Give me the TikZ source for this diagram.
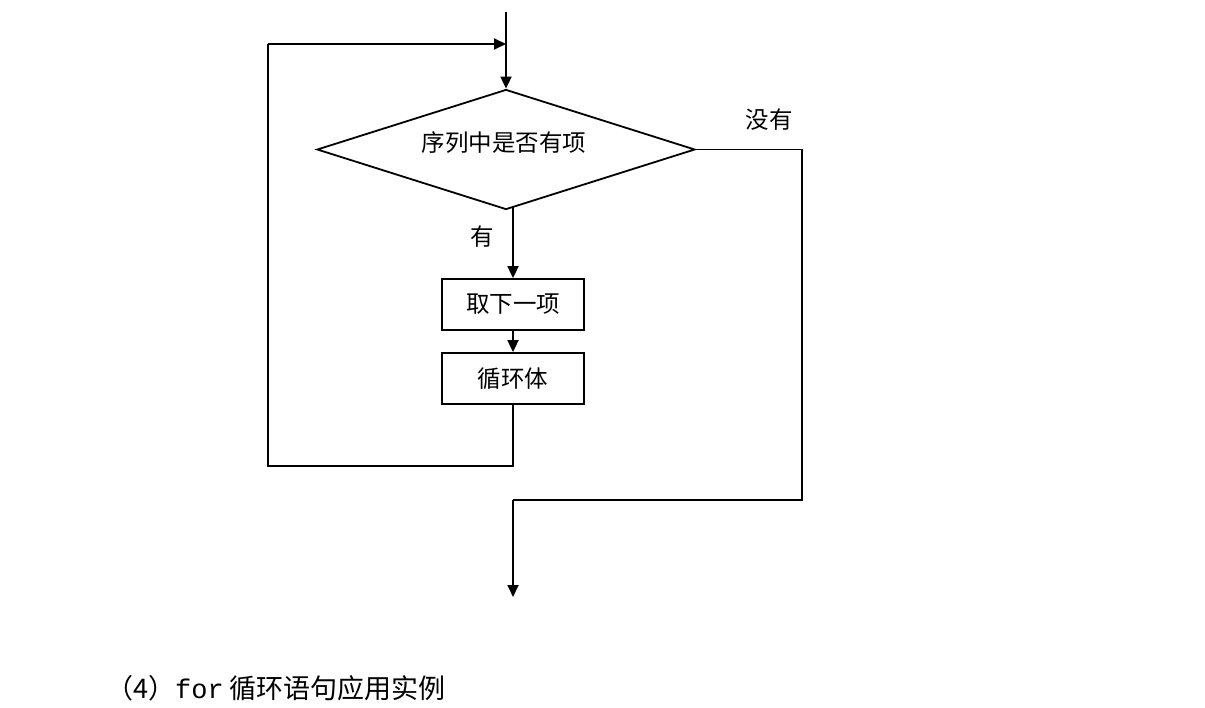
\documentclass[tikz,border=0pt]{standalone}
\usepackage{fontspec}
\newfontfamily\cjk{Noto Sans CJK SC}
\newfontfamily\mono{Liberation Mono}
\usetikzlibrary{shapes.geometric,arrows.meta}
\begin{document}
\begin{tikzpicture}[x=1pt,y=-1pt,
  line/.style={line width=1.8pt},
  arr/.style={line, -{Triangle[length=12pt,width=11pt]}},
  boxnode/.style={draw, line width=1.8pt, minimum width=142pt, minimum height=51pt, inner sep=0pt, font=\cjk\fontsize{23.5}{27}\selectfont},
  lbl/.style={font=\cjk\fontsize{23.5}{27}\selectfont, inner sep=0pt}]
\useasboundingbox (0,0) rectangle (1205,707);
\node[diamond, draw, line width=1.8pt, minimum width=378pt, minimum height=120pt, aspect=3.15, inner sep=0pt] (dec) at (506,149.5) {};
\node[lbl] (dectext) at (504,143) {序列中是否有项};
\node[boxnode] (take) at (513,304.5) {取下一项};
\node[boxnode] (body) at (513,378.5) {循环体};
\node[lbl] (no) at (769,120) {没有};
\node[lbl] (yes) at (482,237) {有};
\coordinate (top) at (506,12);
\coordinate (fbL) at (268,44);
\coordinate (fbM) at (506,44);
\coordinate (fbB) at (268,466);
\coordinate (bodyB) at (513,466);
\coordinate (yesS) at (513,206.5);
\coordinate (rT) at (802,149.5);
\coordinate (rB) at (802,500);
\coordinate (mB) at (513,500);
\coordinate (endp) at (513,597);
\draw[arr] (top) -- (dec.north);
\draw[arr] (fbL) -- (fbM);
\draw[line] (body.south) -- (bodyB) -- (fbB) -- (fbL);
\draw[arr] (yesS) -- (take.north);
\draw[arr] (take.south) -- (body.north);
\draw[line] (dec.east) -- (rT) -- (rB) -- (mB);
\draw[arr] (mB) -- (endp);
\node[anchor=west, inner sep=0pt, font=\cjk\fontsize{27}{31}\selectfont] (cap) at (106,688) {（4）{\mono for} 循环语句应用实例};
\end{tikzpicture}
\end{document}
